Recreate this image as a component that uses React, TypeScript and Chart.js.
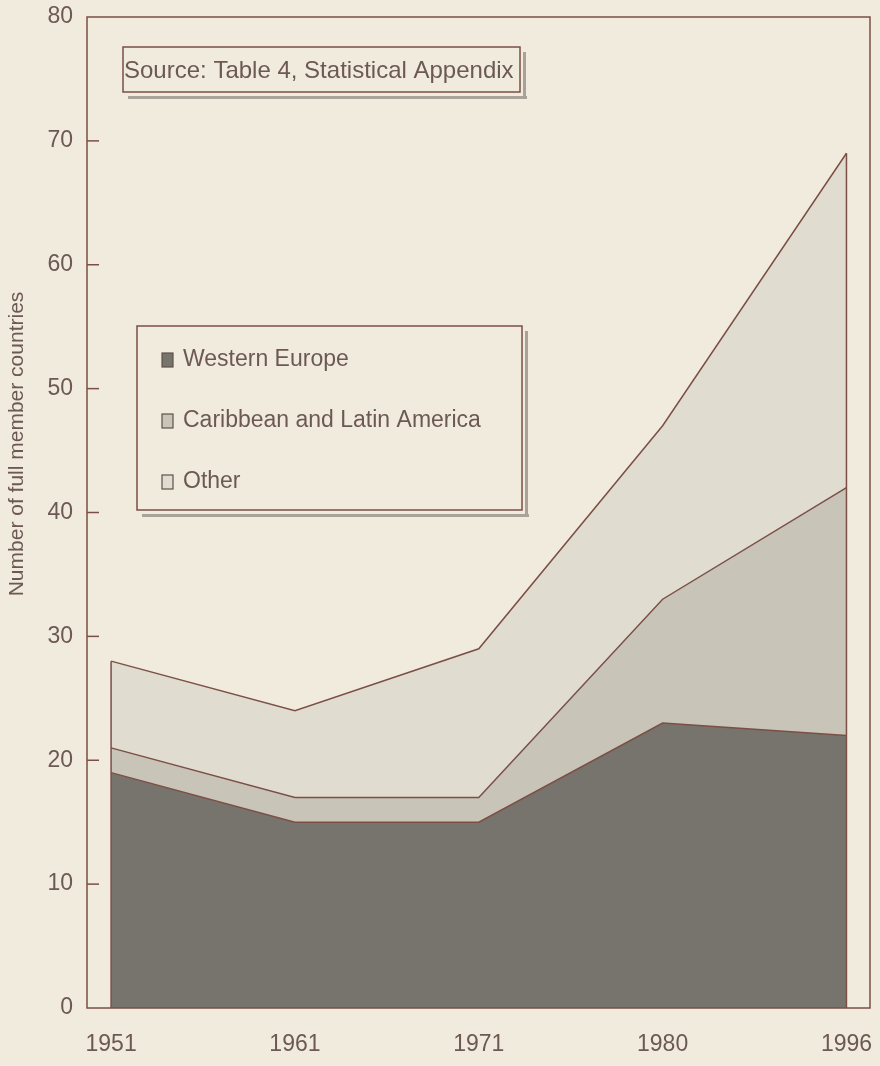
import { useEffect, useRef } from "react";
import { Chart, registerables } from "chart.js";
Chart.register(...registerables);

const years = ["1951", "1961", "1971", "1980", "1996"];
const westernEurope = [19, 15, 15, 23, 22];
const caribbeanLatinAmerica = [2, 2, 2, 10, 20];
const other = [7, 7, 12, 14, 27];
const seriesLabels = ["Western Europe", "Caribbean and Latin America", "Other"];
const yTickValues = [0, 10, 20, 30, 40, 50, 60, 70, 80];
const sourceNote = "Source: Table 4, Statistical Appendix";
const yTitle = "Number of full member countries";

const BG = "#f1ebde";
const LINE = "#7b4f45";
const TEXT = "#6d5953";
const SHADOW = "#a8a299";
const FILLS = ["#77746d", "#c8c4b7", "#e0ddd0"];
const FONT = "'Liberation Sans', Arial, sans-serif";

function toPoints(arr: number[]) {
  return arr.map((v, i) => ({ x: i, y: v }));
}

function shadowBox(ctx: CanvasRenderingContext2D, l: number, t: number, r: number, b: number) {
  ctx.save();
  ctx.fillStyle = SHADOW;
  ctx.fillRect(l + 5, b + 4, r - l + 2, 3);
  ctx.fillRect(r + 3, t + 5, 3, b - t + 2);
  ctx.fillStyle = BG;
  ctx.fillRect(l, t, r - l, b - t);
  ctx.strokeStyle = LINE;
  ctx.lineWidth = 1.5;
  ctx.strokeRect(l, t, r - l, b - t);
  ctx.restore();
}

const decorPlugin = {
  id: "decor",
  beforeDraw(chart: any) {
    const ctx = chart.ctx;
    ctx.save();
    ctx.fillStyle = BG;
    ctx.fillRect(0, 0, chart.width, chart.height);
    ctx.restore();
  },
  afterDatasetsDraw(chart: any) {
    const ctx = chart.ctx;
    const { left, right, top, bottom } = chart.chartArea;
    const y = chart.scales.y;
    const lastMeta = chart.getDatasetMeta(chart.data.datasets.length - 1);
    const y0 = y.getPixelForValue(0);
    ctx.save();
    ctx.strokeStyle = LINE;
    ctx.lineWidth = 1.5;
    [0, lastMeta.data.length - 1].forEach((i) => {
      const p = lastMeta.data[i];
      ctx.beginPath();
      ctx.moveTo(p.x, p.y);
      ctx.lineTo(p.x, y0);
      ctx.stroke();
    });
    ctx.strokeRect(left, top, right - left, bottom - top);
    y.ticks.forEach((t: any) => {
      const py = y.getPixelForValue(t.value);
      if (t.value === 0 || t.value === 80) return;
      ctx.beginPath();
      ctx.moveTo(left, py);
      ctx.lineTo(left + 12, py);
      ctx.stroke();
    });
    ctx.restore();
  },
  afterDraw(chart: any) {
    const ctx = chart.ctx;
    ctx.save();
    ctx.fillStyle = TEXT;
    ctx.font = `21px ${FONT}`;
    ctx.textAlign = "center";
    ctx.textBaseline = "middle";
    ctx.translate(17, 444);
    ctx.rotate(-Math.PI / 2);
    ctx.fillText(yTitle, 0, 0);
    ctx.restore();

    shadowBox(ctx, 123, 47, 520, 92);
    ctx.save();
    ctx.fillStyle = TEXT;
    ctx.font = `24px ${FONT}`;
    ctx.textAlign = "left";
    ctx.textBaseline = "middle";
    ctx.fillText(sourceNote, 124, 71);
    ctx.restore();

    shadowBox(ctx, 137, 326, 522, 510);
    const rows = [360, 421, 482];
    ctx.save();
    ctx.font = `23px ${FONT}`;
    ctx.textAlign = "left";
    ctx.textBaseline = "middle";
    chart.data.datasets.forEach((ds: any, i: number) => {
      const cy = rows[i];
      ctx.fillStyle = ds.backgroundColor;
      ctx.fillRect(162, cy - 7, 11, 14);
      ctx.strokeStyle = "#5f504b";
      ctx.lineWidth = 1.2;
      ctx.strokeRect(162, cy - 7, 11, 14);
      ctx.fillStyle = TEXT;
      ctx.fillText(ds.label, 183, cy);
    });
    ctx.restore();
  },
};

export default function App() {
  const ref = useRef<HTMLCanvasElement | null>(null);
  useEffect(() => {
    document.body.style.margin = "0";
    const chart = new Chart(ref.current!, {
      type: "line",
      data: {
        datasets: [
          {
            label: seriesLabels[0],
            data: toPoints(westernEurope),
            backgroundColor: FILLS[0],
            borderColor: LINE,
            borderWidth: 1.5,
            fill: "origin",
            pointRadius: 0,
          },
          {
            label: seriesLabels[1],
            data: toPoints(caribbeanLatinAmerica),
            backgroundColor: FILLS[1],
            borderColor: LINE,
            borderWidth: 1.5,
            fill: "-1",
            pointRadius: 0,
          },
          {
            label: seriesLabels[2],
            data: toPoints(other),
            backgroundColor: FILLS[2],
            borderColor: LINE,
            borderWidth: 1.5,
            fill: "-1",
            pointRadius: 0,
          },
        ],
      },
      options: {
        responsive: false,
        animation: false,
        layout: { padding: { top: 17, right: 10, left: 0, bottom: 0 } },
        plugins: { legend: { display: false }, tooltip: { enabled: false } },
        scales: {
          x: {
            type: "linear",
            min: -0.131,
            max: 4.128,
            grid: { display: false, drawTicks: false },
            border: { display: false },
            afterBuildTicks: (axis: any) => {
              axis.ticks = years.map((_, i) => ({ value: i }));
            },
            afterFit: (s: any) => {
              s.height = 58;
              s.paddingLeft = 0;
              s.paddingRight = 0;
            },
            ticks: {
              autoSkip: false,
              maxRotation: 0,
              padding: 23,
              color: TEXT,
              font: { family: FONT, size: 23 },
              callback: (v: any) => years[v as number] ?? "",
            },
          },
          y: {
            stacked: true,
            min: 0,
            max: 80,
            grid: { display: false, drawTicks: false },
            border: { display: false },
            afterBuildTicks: (axis: any) => {
              axis.ticks = yTickValues.map((v) => ({ value: v }));
            },
            afterFit: (s: any) => {
              s.width = 87;
              s.paddingTop = 0;
              s.paddingBottom = 0;
            },
            ticks: {
              padding: 14,
              color: TEXT,
              font: { family: FONT, size: 23 },
            },
          },
        },
      },
      plugins: [decorPlugin],
    } as any);
    return () => chart.destroy();
  }, []);
  return (
    <div style={{ position: "absolute", left: 0, top: 0, width: 880, height: 1066 }}>
      <canvas ref={ref} width={880} height={1066} />
    </div>
  );
}
